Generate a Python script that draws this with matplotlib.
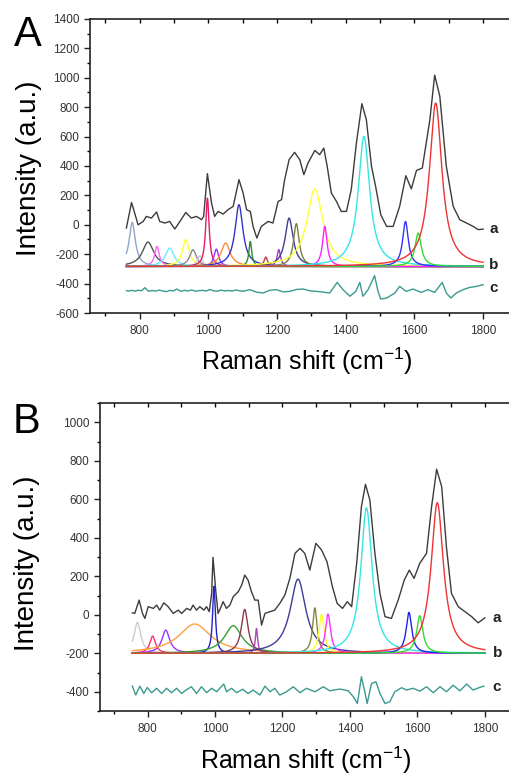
import numpy as np
import matplotlib
matplotlib.use('Agg')
import matplotlib.pyplot as plt
from matplotlib.ticker import MultipleLocator

plt.rcParams['font.family'] = ['Liberation Sans', 'DejaVu Sans']
plt.rcParams['axes.unicode_minus'] = False

# ---panel A data
a_shift = [761, 776, 788, 795, 810, 819, 834, 849, 858, 873, 887, 902, 917, 934, 950, 965, 980, 986,
           997, 1009, 1018, 1028, 1043, 1057, 1072, 1089, 1101, 1111, 1122, 1130, 1141, 1154, 1174, 1188,
           1203, 1213, 1222, 1235, 1251, 1266, 1278, 1290, 1310, 1324, 1336, 1346, 1358, 1373, 1387, 1402,
           1416, 1431, 1447, 1460, 1475, 1487, 1502, 1519, 1538, 1557, 1575, 1591, 1606, 1623, 1645, 1659,
           1674, 1693, 1713, 1732, 1752, 1771, 1786, 1800]
a_spec = [-22, 152, 57, 0, 23, 57, 46, 87, 23, 12, 23, -29, 23, 84, 46, 57, 35, 57,
          348, 148, 57, 91, 73, 103, 125, 307, 216, 103, 91, -11, -90, -11, 23, 12,
          159, 171, 307, 443, 493, 443, 341, 420, 506, 477, 522, 397, 216, 159, 91, 91,
          239, 556, 824, 715, 397, 261, 69, -11, -11, 125, 334, 244, 370, 386, 715, 1018,
          874, 397, 125, 35, 12, -11, -33, -29]

a_res_shift = [761, 770, 778, 786, 795, 805, 815, 825, 836, 846, 856, 866, 877, 888, 898, 908, 919, 930,
               941, 951, 962, 972, 983, 993, 1004, 1015, 1026, 1037, 1047, 1058, 1069, 1080, 1091, 1102,
               1120, 1140, 1159, 1178, 1198, 1217, 1237, 1256, 1276, 1296, 1315, 1334, 1353, 1375, 1392,
               1412, 1429, 1441, 1450, 1465, 1484, 1494, 1502, 1519, 1543, 1557, 1576, 1596, 1620, 1639,
               1659, 1681, 1693, 1706, 1722, 1742, 1761, 1781, 1800]
a_res = [-448, -450, -446, -452, -445, -449, -428, -452, -447, -451, -444, -450, -455, -446, -450, -437,
         -452, -446, -450, -443, -452, -448, -446, -451, -440, -449, -452, -444, -450, -447, -451, -443,
         -449, -452, -441, -458, -464, -446, -441, -456, -453, -440, -437, -449, -453, -458, -464, -392,
         -441, -486, -453, -392, -486, -441, -346, -453, -505, -498, -464, -419, -453, -437, -460, -441,
         -460, -392, -464, -498, -464, -441, -426, -419, -407]

a_base = -283
a_center = [778, 824, 850, 887, 934, 955, 975, 997, 1023, 1050, 1089, 1122, 1167, 1205, 1235, 1256,
            1310, 1339, 1453, 1574, 1611, 1662]
a_top = [16, -117, -147, -158, -101, -170, -210, 182, -165, -124, 137, -113, -219, -169, 46, 8,
         244, -11, 601, 23, -56, 828]
a_hw = [11, 20, 8, 15, 12, 12, 8, 6, 8, 16, 14, 5, 6, 6, 14, 10, 28, 8, 20, 10, 11, 22]
a_col = ['#8fa6cc', '#555555', '#ff66ff', '#66eeff', '#ffff33', '#888888', '#cccccc', '#e8186c',
         '#9933ff', '#ff8c33', '#3333cc', '#2e8b2e', '#c04040', '#aa33cc', '#404090', '#7f7f3f',
         '#ffff33', '#ff22ff', '#33e6e6', '#3333ff', '#33dd33', '#ee3333']

# ---panel B data
b_shift = [755, 762, 775, 785, 792, 802, 817, 827, 836, 848, 861, 876, 891, 901, 916, 927, 935, 945,
           955, 967, 975, 983, 990, 994, 1002, 1009, 1016, 1024, 1034, 1044, 1054, 1069, 1079, 1088,
           1098, 1108, 1118, 1128, 1138, 1148, 1163, 1177, 1192, 1207, 1222, 1237, 1252, 1266, 1281,
           1299, 1316, 1332, 1348, 1362, 1378, 1392, 1405, 1420, 1434, 1446, 1459, 1474, 1489, 1504,
           1523, 1543, 1561, 1576, 1590, 1607, 1627, 1642, 1657, 1672, 1686, 1701, 1721, 1741, 1761,
           1780, 1800]
b_spec = [10, 7, 76, 7, -19, 42, 33, 50, 24, 62, 42, 7, 24, 7, 33, 24, 50, 24,
          42, 24, 42, 16, 111, 298, 128, 7, 33, 68, 33, 50, 94, 120, 154, 206,
          180, 120, 76, 76, -54, 7, 16, 24, 59, 102, 190, 319, 345, 319, 232,
          371, 336, 275, 146, 59, 33, 68, 42, 267, 561, 678, 596, 319, 111, -10,
          -19, 76, 180, 232, 189, 267, 319, 561, 756, 665, 353, 111, 42, 16, -10,
          -42, -16]

b_res_shift = [755, 765, 777, 789, 799, 812, 827, 842, 856, 871, 886, 901, 914, 930, 945, 960, 975, 990,
               1005, 1014, 1026, 1034, 1049, 1064, 1082, 1098, 1113, 1133, 1148, 1163, 1177, 1192, 1212,
               1232, 1252, 1271, 1296, 1321, 1340, 1370, 1395, 1410, 1422, 1434, 1444, 1451, 1464, 1477,
               1489, 1504, 1518, 1533, 1553, 1568, 1587, 1607, 1627, 1647, 1667, 1686, 1706, 1726, 1746,
               1765, 1784, 1797]
b_res = [-371, -417, -371, -409, -378, -405, -382, -409, -382, -405, -382, -409, -391, -374, -409, -374,
         -405, -382, -400, -382, -360, -400, -382, -405, -387, -409, -391, -417, -371, -400, -382, -417,
         -400, -374, -405, -382, -400, -374, -395, -386, -395, -426, -461, -322, -400, -461, -357, -348,
         -409, -461, -452, -400, -379, -391, -382, -397, -374, -405, -374, -400, -366, -395, -360, -391,
         -378, -371]

b_base = -200
b_center = [770, 815, 854, 940, 997, 1054, 1088, 1123, 1246, 1296, 1316, 1335, 1449, 1575, 1607, 1659]
b_top = [-40, -111, -80, -48, 149, -57, 28, -71, 185, 36, 2, 4, 556, 12, -5, 582]
b_hw = [12, 10, 14, 58, 5, 32, 12, 4, 28, 8, 9, 9, 20, 10, 11, 22]
b_col = ['#cccccc', '#ff3366', '#9933ff', '#ffa040', '#2222cc', '#33a033', '#8b3a4a', '#aa44bb',
         '#3c3c99', '#86863a', '#ffff33', '#ff33ff', '#33e6e6', '#2222ee', '#33dd33', '#ee3333']


def style_axes(ax, ylim):
    ax.set_xlim(655, 1900)
    ax.set_ylim(*ylim)
    ax.xaxis.set_major_locator(MultipleLocator(200))
    ax.xaxis.set_minor_locator(MultipleLocator(100))
    ax.yaxis.set_major_locator(MultipleLocator(200))
    ax.yaxis.set_minor_locator(MultipleLocator(100))
    ax.tick_params(which='major', direction='out', length=4, width=1, labelsize=8.5,
                   colors='#222222', labelcolor='#333333')
    ax.tick_params(axis='x', which='major', pad=5)
    ax.tick_params(which='minor', direction='out', length=2, width=1)
    ax.spines['right'].set_visible(False)
    for s in ['left', 'bottom', 'top']:
        ax.spines[s].set_linewidth(1.2)
        ax.spines[s].set_color('#222222')
    # mirrored ticks on top, pointing in
    top = ax.secondary_xaxis('top')
    top.xaxis.set_major_locator(MultipleLocator(200))
    top.xaxis.set_minor_locator(MultipleLocator(100))
    top.tick_params(which='both', direction='in', length=3, width=1, labeltop=False)
    top.spines['top'].set_visible(False)


def plot_panel(ax, shift, spec, res_shift, res, base, centers, tops, hws, cols, lab_x, lab_y):
    x = np.linspace(shift[0], 1800, 1200)
    for c, t, w, col in zip(centers, tops, hws, cols):
        amp = t - base
        ax.plot(x, base + amp * w ** 2 / ((x - c) ** 2 + w ** 2), color=col, lw=1)
    ax.plot(shift, spec, color='#3c3c3c', lw=1)
    ax.plot(res_shift, res, color='#3a9a90', lw=1)
    for t, yy in zip(['a', 'b', 'c'], lab_y):
        ax.text(lab_x, yy, t, fontsize=11, fontweight='bold', ha='left', va='center', color='#222222')


fig = plt.figure(figsize=(5.09, 7.75), dpi=100)

ax1 = fig.add_axes([90 / 509, 1 - 313 / 775, 427.4 / 509, 294 / 775])
style_axes(ax1, (-600, 1400))
plot_panel(ax1, a_shift, a_spec, a_res_shift, a_res, a_base, a_center, a_top, a_hw, a_col,
           1818, [-27, -272, -428])

ax2 = fig.add_axes([100 / 509, 1 - 711 / 775, 418.6 / 509, 308 / 775])
style_axes(ax2, (-500, 1100))
ax2.set_xlim(659, 1900)
plot_panel(ax2, b_shift, b_spec, b_res_shift, b_res, b_base, b_center, b_top, b_hw, b_col,
           1823, [-16, -201, -374])

# panel letters and axis titles
fig.text(28 / 509, 1 - 35 / 775, 'A', fontsize=30, ha='center', va='center')
fig.text(26 / 509, 1 - 422 / 775, 'B', fontsize=30, ha='center', va='center')
fig.text(29 / 509, 1 - 168 / 775, 'Intensity (a.u.)', fontsize=20, rotation=90, ha='center', va='center')
fig.text(27 / 509, 1 - 563 / 775, 'Intensity (a.u.)', fontsize=20, rotation=90, ha='center', va='center')
fig.text(307 / 509, 1 - 361 / 775, 'Raman shift (cm$^{\\mathregular{-1}}$)', fontsize=18, ha='center', va='center')
fig.text(306 / 509, 1 - 760 / 775, 'Raman shift (cm$^{\\mathregular{-1}}$)', fontsize=18, ha='center', va='center')

fig.savefig('out.png', dpi=100)
